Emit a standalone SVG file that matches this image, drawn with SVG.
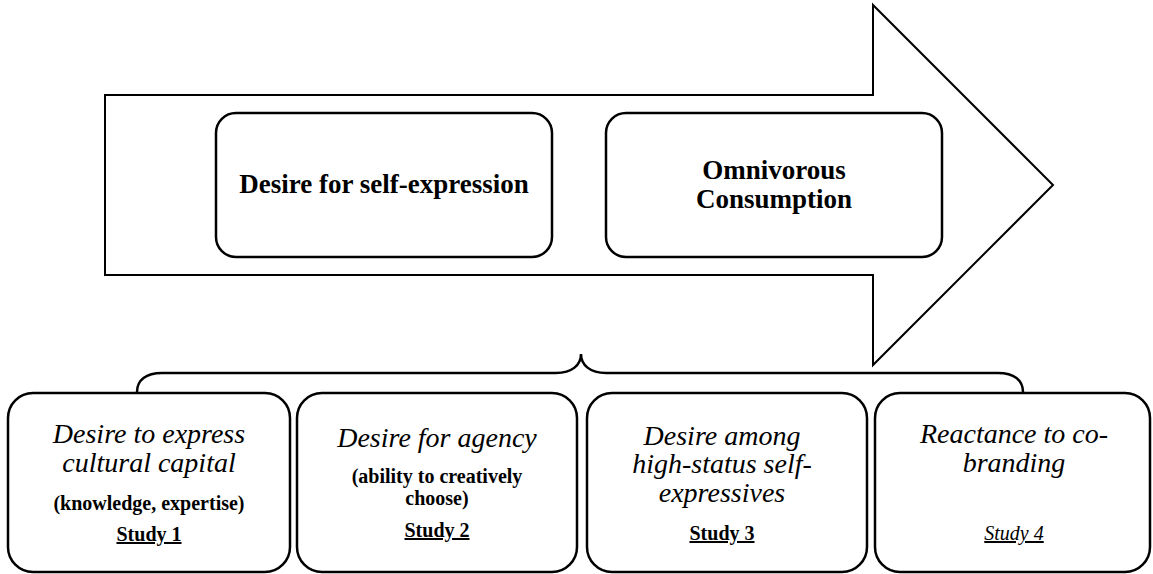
<svg xmlns="http://www.w3.org/2000/svg" width="1153" height="574" viewBox="0 0 1153 574">
<style>
.box{fill:#fff;stroke:#000;stroke-width:2.5}
.t{font-family:"Liberation Serif","Times New Roman",serif;fill:#000;text-anchor:middle}
.main{font-size:27px;font-weight:bold}
.ti{font-size:28px;font-style:italic}
.sub{font-size:20px;font-weight:bold}
.st{font-size:20px;font-weight:bold;text-decoration:underline}
.sti{font-size:20px;font-style:italic;text-decoration:underline}
</style>
<rect width="1153" height="574" fill="#fff"/>
<g id="arrow">
<polygon points="105,95 873,95 873,5 1053,185 873,365 873,275 105,275" fill="#fff" stroke="#000" stroke-width="2"/>
</g>
<g id="self-expression">
<rect class="box" x="216" y="113" width="336" height="144" rx="20"/>
<text class="t main" x="384" y="193">Desire for self-expression</text>
</g>
<g id="omnivorous">
<rect class="box" x="606" y="113" width="336" height="144" rx="20"/>
<text class="t main" x="774" y="179">Omnivorous</text>
<text class="t main" x="774" y="208">Consumption</text>
</g>
<g id="connectors">
<path d="M137,392 C137,380 146,373 162,373 L556,373 C572,373 581,365 581,354 C581,365 590,373 606,373 L998,373 C1014,373 1023,380 1023,392" fill="none" stroke="#000" stroke-width="2.5"/>
</g>
<g id="study1">
<rect class="box" x="8" y="393" width="282" height="179" rx="25"/>
<text class="t ti" x="149" y="443">Desire to express</text>
<text class="t ti" x="149" y="472">cultural capital</text>
<text class="t sub" x="149" y="510">(knowledge, expertise)</text>
<text class="t st" x="149" y="541">Study 1</text>
</g>
<g id="study2">
<rect class="box" x="297" y="393" width="280" height="179" rx="25"/>
<text class="t ti" x="437" y="447">Desire for agency</text>
<text class="t sub" x="437" y="483">(ability to creatively</text>
<text class="t sub" x="437" y="505">choose)</text>
<text class="t st" x="437" y="537">Study 2</text>
</g>
<g id="study3">
<rect class="box" x="587" y="393" width="280" height="179" rx="25"/>
<text class="t ti" x="722" y="445">Desire among</text>
<text class="t ti" x="722" y="473">high-status self-</text>
<text class="t ti" x="722" y="502">expressives</text>
<text class="t st" x="722" y="540">Study 3</text>
</g>
<g id="study4">
<rect class="box" x="875" y="393" width="275" height="179" rx="25"/>
<text class="t ti" x="1014" y="443">Reactance to co-</text>
<text class="t ti" x="1014" y="472">branding</text>
<text class="t sti" x="1014" y="540">Study 4</text>
</g>
</svg>
